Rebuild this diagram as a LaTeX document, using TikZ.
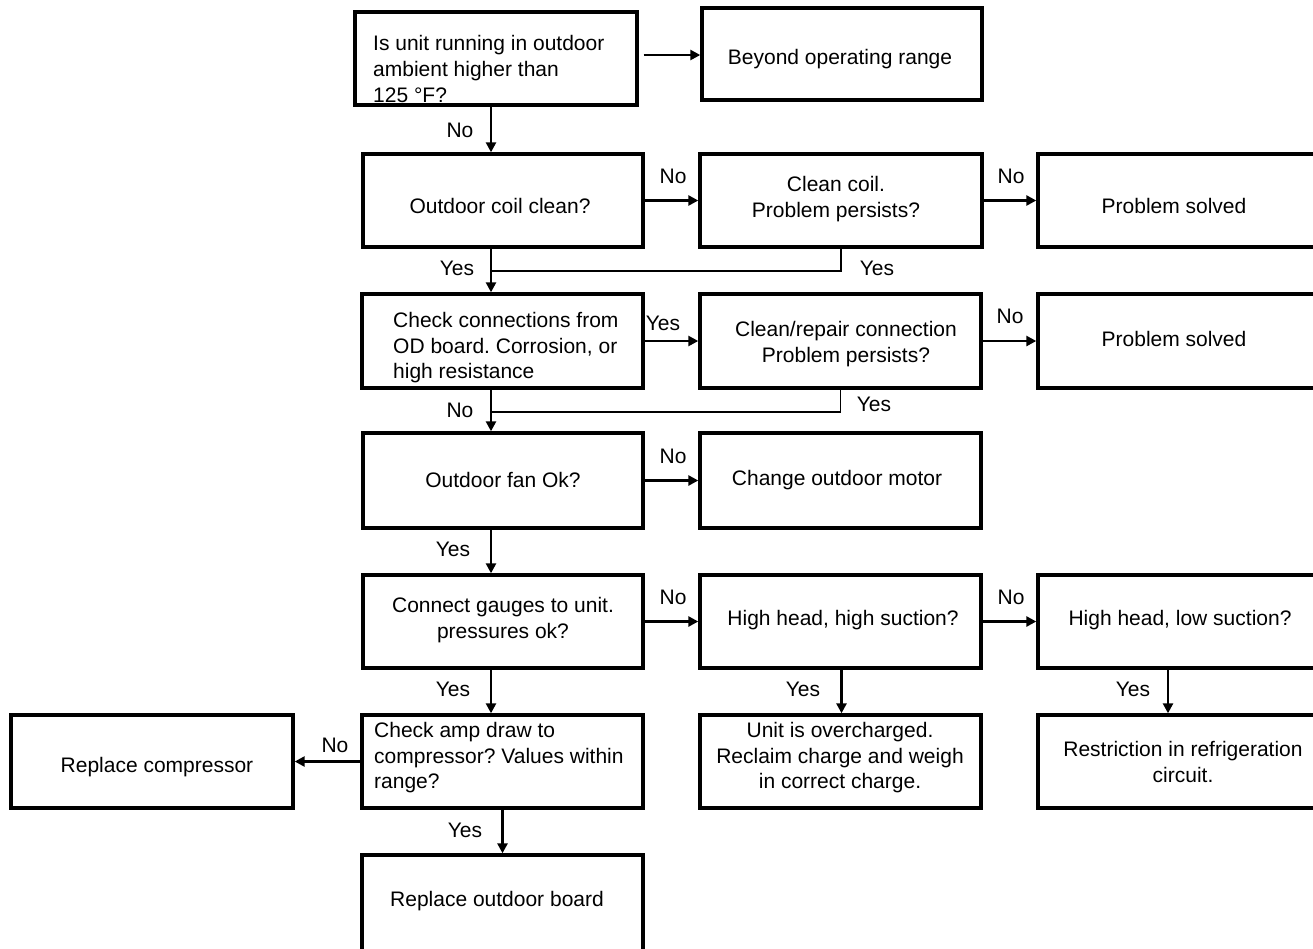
\documentclass[tikz,border=0pt]{standalone}
\usepackage{fontspec}
\setmainfont{Liberation Sans}
\usetikzlibrary{arrows.meta}
\begin{document}
\frenchspacing
\begin{tikzpicture}[x=1pt,y=-1pt,
  font=\fontsize{21pt}{25.5pt}\selectfont,
  box/.style={draw=black, line width=3.4pt, rectangle, inner sep=0pt, align=center},
  txt/.style={inner sep=0pt, align=center},
  ltxt/.style={inner sep=0pt, align=left, anchor=west},
  arr/.style={line width=2.6pt, -{Triangle[length=10pt,width=10pt]}},
  thinline/.style={line width=1.4pt},
  lbl/.style={inner sep=0pt}
]
\useasboundingbox (0,0) rectangle (1313,948);
% boxes
\node[box, minimum width=282, minimum height=93] (q1) at (496,58.5) {};
\node[ltxt, font=\fontsize{21pt}{26pt}\selectfont] (q1t) at (373,69) {Is unit running in outdoor\\ambient higher than\\125 °F?};
\node[box, minimum width=280, minimum height=92] (beyond) at (842,54) {};
\node[txt] (beyondt) at (840,59) {Beyond operating range};

\node[box, minimum width=280, minimum height=93] (coil) at (503,200.5) {};
\node[txt] (coilt) at (500,206) {Outdoor coil clean?};
\node[box, minimum width=282, minimum height=93] (clean) at (841,200.5) {};
\node[txt] (cleant) at (836,199) {Clean coil.\\Problem persists?};
\node[box, minimum width=282, minimum height=93] (ps1) at (1179,200.5) {};
\node[txt] (ps1t) at (1174,206) {Problem solved};

\node[box, minimum width=281, minimum height=94] (check) at (502.5,341) {};
\node[ltxt] (checkt) at (393,348) {Check connections from\\OD board. Corrosion, or\\high resistance};
\node[box, minimum width=281, minimum height=94] (repair) at (840.5,341) {};
\node[txt] (repairt) at (846,344) {Clean/repair connection\\Problem persists?};
\node[box, minimum width=282, minimum height=94] (ps2) at (1179,341) {};
\node[txt] (ps2t) at (1174,339) {Problem solved};

\node[box, minimum width=280, minimum height=95] (fan) at (503,480.5) {};
\node[txt] (fant) at (503,480) {Outdoor fan Ok?};
\node[box, minimum width=281, minimum height=95] (motor) at (840.5,480.5) {};
\node[txt] (motort) at (837,480) {Change outdoor motor};

\node[box, minimum width=280, minimum height=93] (gauges) at (503,621.5) {};
\node[txt] (gaugest) at (503,620) {Connect gauges to unit.\\pressures ok?};
\node[box, minimum width=281, minimum height=93] (hhhs) at (840.5,621.5) {};
\node[txt] (hhhst) at (843,620) {High head, high suction?};
\node[box, minimum width=282, minimum height=93] (hhls) at (1179,621.5) {};
\node[txt] (hhlst) at (1180,620) {High head, low suction?};

\node[box, minimum width=281, minimum height=93] (amp) at (502.5,761.5) {};
\node[ltxt] (ampt) at (374,758) {Check amp draw to\\compressor? Values within\\range?};
\node[box, minimum width=282, minimum height=93] (comp) at (152,761.5) {};
\node[txt] (compt) at (157,767) {Replace compressor};
\node[box, minimum width=281, minimum height=93] (over) at (840.5,761.5) {};
\node[txt] (overt) at (840,758) {Unit is overcharged.\\Reclaim charge and weigh\\in correct charge.};
\node[box, minimum width=282, minimum height=93] (restr) at (1179,761.5) {};
\node[txt] (restrt) at (1183,762) {Restriction in refrigeration\\circuit.};

\node[box, minimum width=281, minimum height=105] (board) at (502.5,907.5) {};
\node[txt] (boardt) at (497,901) {Replace outdoor board};

% junctions
\coordinate (j1) at (491,271);
\coordinate (j2) at (491,412);

% connectors
\draw[arr] ([xshift=5pt,yshift=3.5pt]q1.east) -- ([yshift=3.5pt]q1.east -| beyond.west);
\draw[arr] (q1.south -| j1) -- (coil.north -| j1);
\draw[arr] (coil.east) -- (clean.west);
\draw[arr] (clean.east) -- (ps1.west);
\draw[arr] (coil.south -| j1) -- (check.north -| j1);
\draw[thinline] (clean.south) |- (j1);
\draw[arr] (check.east) -- (repair.west);
\draw[arr] (repair.east) -- (ps2.west);
\draw[arr] (check.south -| j2) -- (fan.north -| j2);
\draw[thinline] (repair.south) |- (j2);
\draw[arr] (fan.east) -- (motor.west);
\draw[arr] (fan.south -| j2) -- (gauges.north -| j2);
\draw[arr] (gauges.east) -- (gauges.east -| hhhs.west);
\draw[arr] (hhhs.east) -- (hhls.west);
\draw[arr] (gauges.south -| j2) -- (amp.north -| j2);
\draw[arr] ([xshift=1pt]hhhs.south) -- ([xshift=1pt]over.north);
\draw[arr] ([xshift=-11pt]hhls.south) -- ([xshift=-11pt]restr.north);
\draw[arr] (amp.west) -- (comp.east);
\draw[arr] (amp.south) -- (board.north);

% labels
\node[lbl] (l1) at (460,130) {No};
\node[lbl] (l2) at (673,176) {No};
\node[lbl] (l3) at (1011,176) {No};
\node[lbl] (l4) at (457,268) {Yes};
\node[lbl] (l5) at (877,268) {Yes};
\node[lbl] (l6) at (663,323) {Yes};
\node[lbl] (l7) at (1010,316) {No};
\node[lbl] (l8) at (460,410) {No};
\node[lbl] (l9) at (874,404) {Yes};
\node[lbl] (l10) at (673,456) {No};
\node[lbl] (l11) at (453,549) {Yes};
\node[lbl] (l12) at (673,597) {No};
\node[lbl] (l13) at (1011,597) {No};
\node[lbl] (l14) at (453,689) {Yes};
\node[lbl] (l15) at (803,689) {Yes};
\node[lbl] (l16) at (1133,689) {Yes};
\node[lbl] (l17) at (335,745) {No};
\node[lbl] (l18) at (465,830) {Yes};
\end{tikzpicture}
\end{document}
